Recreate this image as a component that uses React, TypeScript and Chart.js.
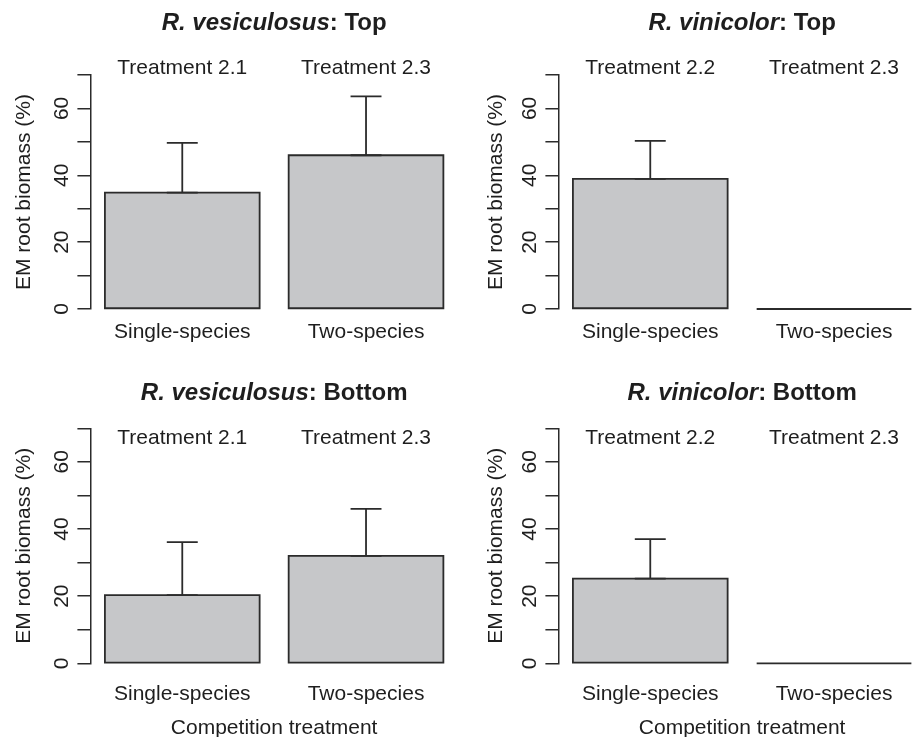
import React, { useEffect, useRef } from 'react';
import { Chart, registerables } from 'chart.js';

Chart.register(...registerables);

// ---------- data ----------
const categories = ['Single-species', 'Two-species'];
const yTickValues = [0, 10, 20, 30, 40, 50, 60, 70];
const yLabeledTicks = [0, 20, 40, 60];
const yAxisTitle = 'EM root biomass (%)';
const xAxisTitle = 'Competition treatment';

const vesTreatments = ['Treatment 2.1', 'Treatment 2.3'];
const vinTreatments = ['Treatment 2.2', 'Treatment 2.3'];

const vesTopMean = [34.8, 46.0];
const vesTopUpper = [49.7, 63.6];
const vinTopMean = [38.9, 0];
const vinTopUpper = [50.3, null];
const vesBottomMean = [20.3, 32.0];
const vesBottomUpper = [36.1, 46.0];
const vinBottomMean = [25.2, 0];
const vinBottomUpper = [37.0, null];

// ---------- style ----------
const FONT = '"Liberation Sans", Arial, Helvetica, sans-serif';
const TEXT = '#1e1e1e';
const LINE = '#2b2b2b';
const FILL = '#c6c7c9';

type PanelSpec = {
  species: string;
  part: string;
  treatments: string[];
  mean: number[];
  upper: (number | null)[];
  left: number;
  top: number;
  height: number;
  padTop: number;
  padBottom: number;
  xHeight: number;
  xTickPad: number;
  showXTitle: boolean;
  titleY: number;
  treatY: number;
  yTitlePad: number;
};

const CANVAS_W = 470;
const Y_WIDTH = 90.4;
const PAD_RIGHT = 12.1;

const panels: PanelSpec[] = [
  {
    species: 'R. vesiculosus', part: ': Top', treatments: vesTreatments,
    mean: vesTopMean, upper: vesTopUpper,
    left: 0, top: 0, height: 370, padTop: 75, padBottom: 0, xHeight: 61, xTickPad: 10.4,
    showXTitle: false, titleY: 23.5, treatY: 68, yTitlePad: 11.6,
  },
  {
    species: 'R. vinicolor', part: ': Top', treatments: vinTreatments,
    mean: vinTopMean, upper: vinTopUpper,
    left: 468, top: 0, height: 370, padTop: 75, padBottom: 0, xHeight: 61, xTickPad: 10.4,
    showXTitle: false, titleY: 23.5, treatY: 68, yTitlePad: 15.6,
  },
  {
    species: 'R. vesiculosus', part: ': Bottom', treatments: vesTreatments,
    mean: vesBottomMean, upper: vesBottomUpper,
    left: 0, top: 370, height: 380, padTop: 58.3, padBottom: 9.4, xHeight: 77.3, xTickPad: 18.1,
    showXTitle: true, titleY: 23, treatY: 68, yTitlePad: 11.6,
  },
  {
    species: 'R. vinicolor', part: ': Bottom', treatments: vinTreatments,
    mean: vinBottomMean, upper: vinBottomUpper,
    left: 468, top: 370, height: 380, padTop: 58.3, padBottom: 9.4, xHeight: 77.3, xTickPad: 18.1,
    showXTitle: true, titleY: 23, treatY: 68, yTitlePad: 15.6,
  },
];

function makeDecor(p: PanelSpec) {
  return {
    id: 'panelDecor',
    afterDatasetsDraw(chart: any) {
      const ctx = chart.ctx as CanvasRenderingContext2D;
      const yScale = chart.scales.y;
      const xScale = chart.scales.x;
      const meta = chart.getDatasetMeta(0);
      ctx.save();
      ctx.strokeStyle = LINE;
      ctx.lineWidth = 1.8;
      meta.data.forEach((bar: any, i: number) => {
        const { x, y, base, width } = bar.getProps(['x', 'y', 'base', 'width'], true);
        const l = x - width / 2;
        ctx.beginPath();
        if (Math.abs(base - y) < 0.5) {
          ctx.moveTo(l, base);
          ctx.lineTo(l + width, base);
        } else {
          ctx.rect(l, y, width, base - y);
        }
        ctx.stroke();
        const up = p.upper[i];
        if (up !== null && up !== undefined) {
          const py = yScale.getPixelForValue(up);
          const cap = width * 0.1;
          ctx.beginPath();
          ctx.moveTo(x, y);
          ctx.lineTo(x, py);
          ctx.moveTo(x - cap, py);
          ctx.lineTo(x + cap, py);
          ctx.moveTo(x - cap, y);
          ctx.lineTo(x + cap, y);
          ctx.stroke();
        }
      });

      // treatment labels above each bar
      ctx.fillStyle = TEXT;
      ctx.textBaseline = 'middle';
      ctx.textAlign = 'center';
      ctx.font = `21px ${FONT}`;
      p.treatments.forEach((t, i) => {
        ctx.fillText(t, xScale.getPixelForValue(i), p.treatY);
      });

      // panel title: italic species + bold rest
      const cx = (chart.chartArea.left + chart.chartArea.right) / 2;
      const fItal = `italic bold 24px ${FONT}`;
      const fBold = `bold 24px ${FONT}`;
      ctx.font = fItal;
      const w1 = ctx.measureText(p.species).width;
      ctx.font = fBold;
      const w2 = ctx.measureText(p.part).width;
      const sx = cx - (w1 + w2) / 2;
      ctx.textAlign = 'left';
      ctx.font = fItal;
      ctx.fillText(p.species, sx, p.titleY);
      ctx.font = fBold;
      ctx.fillText(p.part, sx + w1, p.titleY);
      ctx.restore();
    },
  };
}

function Panel({ p }: { p: PanelSpec }) {
  const ref = useRef<HTMLCanvasElement | null>(null);
  useEffect(() => {
    if (!ref.current) return;
    const font = { family: FONT, size: 21 };
    const chart = new Chart(ref.current, {
      type: 'bar',
      data: {
        labels: categories,
        datasets: [
          {
            data: p.mean,
            backgroundColor: FILL,
            borderWidth: 0,
            barPercentage: 0.842,
            categoryPercentage: 1,
          },
        ],
      },
      options: {
        responsive: false,
        animation: false,
        events: [],
        layout: { padding: { left: 0, right: PAD_RIGHT, top: p.padTop, bottom: p.padBottom } },
        plugins: {
          legend: { display: false },
          tooltip: { enabled: false },
          title: { display: false },
        },
        scales: {
          x: {
            type: 'category',
            offset: true,
            grid: { display: false, drawTicks: false },
            border: { display: false },
            ticks: { color: TEXT, font, padding: p.xTickPad, maxRotation: 0, minRotation: 0, autoSkip: false },
            title: {
              display: p.showXTitle,
              text: xAxisTitle,
              color: TEXT,
              font,
              padding: { top: 0, bottom: 0 },
            },
            afterFit: (s: any) => {
              s.height = p.xHeight;
            },
          },
          y: {
            type: 'linear',
            min: 0,
            max: 70,
            afterBuildTicks: (s: any) => {
              s.ticks = yTickValues.map((v) => ({ value: v }));
            },
            ticks: {
              callback: (v: any) => (yLabeledTicks.includes(Number(v)) ? String(v) : ''),
              minRotation: 90,
              maxRotation: 90,
              crossAlign: 'center',
              padding: 3.5,
              color: TEXT,
              font,
              autoSkip: false,
            },
            grid: { drawOnChartArea: false, drawTicks: true, tickLength: 13, color: LINE, lineWidth: 1.5 },
            border: { display: true, color: LINE, width: 1.5 },
            title: {
              display: true,
              text: yAxisTitle,
              color: TEXT,
              font,
              padding: { top: p.yTitlePad, bottom: 0 },
            },
            afterFit: (s: any) => {
              s.width = Y_WIDTH;
            },
          },
        },
      } as any,
      plugins: [makeDecor(p)],
    });
    return () => chart.destroy();
  }, [p]);
  return (
    <canvas
      ref={ref}
      width={CANVAS_W}
      height={p.height}
      style={{ position: 'absolute', left: p.left, top: p.top, width: CANVAS_W, height: p.height }}
    />
  );
}

export default function App() {
  return (
    <div
      style={{
        position: 'fixed',
        left: 0,
        top: 0,
        width: 919,
        height: 737,
        overflow: 'hidden',
        background: '#ffffff',
      }}
    >
      {panels.map((p, i) => (
        <Panel key={i} p={p} />
      ))}
    </div>
  );
}
